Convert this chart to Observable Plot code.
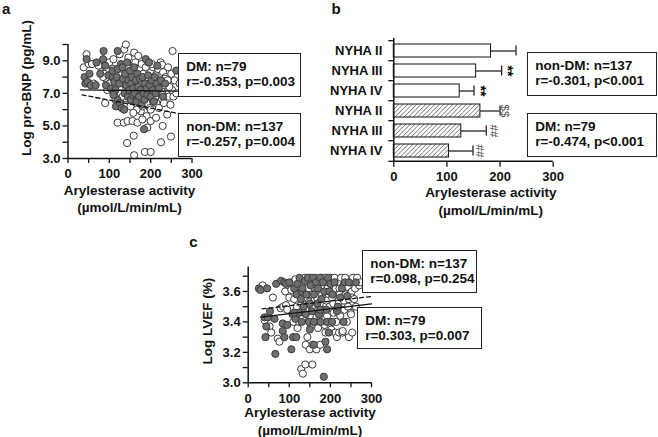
<!DOCTYPE html>
<html><head><meta charset="utf-8">
<script src="https://cdn.jsdelivr.net/npm/d3@7"></script>
<script src="https://cdn.jsdelivr.net/npm/@observablehq/plot@0.6"></script>
<style>
body{margin:0;background:#fff;}
#fig{position:relative;width:658px;height:437px;overflow:hidden;font-family:"Liberation Sans",Arial,sans-serif;font-weight:bold;color:#111;background:#fff;}
#fig svg{position:absolute;left:0;top:0;}
.t{position:absolute;white-space:nowrap;line-height:1;}
.box{position:absolute;box-sizing:border-box;border:1.5px solid #222;background:#fff;font-size:13.5px;line-height:15.5px;padding-left:7.5px;padding-top:4.6px;white-space:nowrap;}
</style></head><body><div id="fig"></div><script>
// ---------- DATA ----------
// Panel a: arylesterase activity vs log pro-BNP
const aDM = [[40,8.0],[42,7.6],[45,9.1],[47,7.7],[52,8.2],[55,7.5],[67,7.5],[69,8.9],[78,8.2],[85,9.1],[86,9.6],[90,8.7],[92,7.5],[98,8.1],[104,7.3],
[108,8.0],[108,8.4],[112,7.7],[115,7.2],[116,6.2],[118,8.0],[120,6.6],[120,8.5],[120,9.6],[124,7.6],[126,6.4],[128,8.8],[130,6.1],[132,8.6],[133,7.9],[136,6.0],[137,7.0],[138,8.2],[141,7.5],[143,8.9],[145,6.8],[146,7.8],[148,7.2],[150,8.4],[152,6.6],[153,7.6],[155,8.0],[157,6.9],[158,7.3],[160,8.6],[162,7.0],
[164,7.8],[166,6.5],[168,8.2],[170,7.4],[172,6.8],[174,7.9],[176,7.2],[178,6.3],[180,8.0],[184,4.8],[183,7.0],[185,6.6],[186,7.6],[188,9.1],[190,7.3],[192,6.9],[194,8.1],[196,8.9],[198,7.5],[200,6.8],[203,7.8],[205,7.2],[208,6.5],[210,8.0],[212,7.0],[215,7.6],[216,8.7],[220,7.3],[225,7.8],[230,6.8],[235,7.6],[262,8.4],[110,6.9]];
const aNonDM = [[38,8.6],[45,9.4],[50,8.8],[58,8.8],[62,7.6],[74,8.7],[80,8.3],[88,8.2],[92,7.9],[90,6.4],[100,8.9],[105,8.0],[110,9.1],[112,7.5],[115,6.6],[118,8.3],[122,7.9],[125,9.4],[128,7.0],[130,8.7],[132,6.8],[136,8.1],[136,9.7],[140,10.0],[140,7.4],[142,6.5],[144,8.6],[147,7.7],[148,6.9],[150,9.0],[150,8.0],[152,7.1],[154,6.4],[156,9.1],[156,8.4],[158,7.6],[160,9.5],[162,6.8],[163,8.9],[165,7.3],[167,8.1],[168,6.2],[170,7.8],[170,9.3],[172,6.6],[174,8.5],[175,7.0],[176,5.9],[178,8.8],[179,7.5],[180,6.2],[182,8.2],[184,6.8],[186,7.8],[188,8.6],[190,6.4],[190,5.6],[192,7.2],[194,8.9],[196,7.6],[198,6.1],[200,8.3],[200,6.0],[202,7.0],[204,7.9],[205,6.6],[206,8.6],[210,7.4],[212,8.1],[214,6.4],[215,6.9],[216,7.8],[218,8.5],[220,6.1],[222,7.2],[224,8.9],[226,6.7],[228,8.75],[230,8.3],[232,6.4],[234,7.5],[236,8.0],[240,7.0],[242,8.6],[244,6.8],[246,7.6],[248,6.3],[250,8.2],[252,7.2],[253,9.6],[255,6.8],[258,7.8],[262,7.0],[270,7.6],[276,7.95],
[120,5.2],[135,5.2],[144,5.3],[156,5.3],[168,5.2],[180,5.4],[192,4.9],[200,5.3],[213,5.5],[229,5.0],[143,3.95],[159,4.4],[160,3.2],[186,3.4],[200,3.4],[225,4.0],[249,4.35],[240,5.7],
[100,7.6],[108,8.5],[126,7.8],[134,6.1],[146,9.2],[154,7.9],[166,6.0],[173,7.6],[187,7.1],[193,8.0],[203,8.8],[211,6.8],[217,7.5],[227,7.1],[235,7.9],[245,7.4],[138,6.3],[158,5.8],[176,8.0],[207,7.3],[229,6.9],[241,7.8],[128,8.1],[151,6.2],[95,7.2],[85,8.0]];
const aFitSolid = [[30,7.21],[300,7.12]];
const aFitDashed = [[34,6.91],[300,5.6]];
const aXTicks = [0,50,100,150,200,250,300];
const aYTicks = [3,4,5,6,7,8,9,10];

// Panel b: arylesterase activity by NYHA class
const bCategories = ["NYHA II","NYHA III","NYHA IV","NYHA II","NYHA III","NYHA IV"];
const bGroups = ["non-DM","non-DM","non-DM","DM","DM","DM"];
const bMean = [183,155,124,163,127,104];
const bSD = [47,48,27,37,47,45];
const bMarks = ["","**","**","$$","##","##"];
const bXTicks = [0,100,200,300];

// Panel c: arylesterase activity vs log LVEF
const cDM = [[26,3.62],[30,3.61],[40,3.43],[42,3.30],[44,3.37],[46,3.62],[48,3.43],[53,3.47],[64,3.42],[66,3.19],[68,3.65],[80,3.67],[84,3.39],[84,3.34],[88,3.66],[88,3.30],[92,3.65],[95,3.38],[100,3.66],[105,3.22],[108,3.45],[109,3.30],[112,3.62],[115,3.42],[117,3.30],[118,3.58],[120,3.65],[122,3.46],[125,3.69],[128,3.55],[130,3.40],[130,3.60],[132,3.62],[135,3.50],[138,3.67],[140,3.45],[142,3.58],[145,3.69],[148,3.40],[150,3.52],[150,3.35],[152,3.64],[155,3.47],[158,3.69],[160,3.58],[160,3.40],[160,3.25],[165,3.66],[168,3.52],[170,3.62],[172,3.45],[175,3.69],[176,3.40],[178,3.55],[182,3.66],[184,3.04],[185,3.60],[188,3.27],[190,3.48],[192,3.40],[192,3.22],[194,3.69],[196,3.33],[198,3.60],[200,3.65],[204,3.40],[205,3.58],[210,3.66],[216,3.47],[218,3.50],[224,3.56],[228,3.62],[232,3.40],[235,3.66],[241,3.57],[245,3.66],[262,3.66],[175,3.48],[112,3.46]];
const cNonDM = [[35,3.64],[40,3.41],[52,3.37],[56,3.33],[60,3.56],[72,3.29],[76,3.27],[79,3.49],[85,3.50],[90,3.60],[92,3.51],[95,3.48],[98,3.64],[100,3.56],[105,3.61],[108,3.66],[110,3.40],[112,3.55],[115,3.68],[116,3.47],[118,3.50],[118,3.62],[120,3.36],[122,3.62],[124,3.40],[125,3.45],[126,3.58],[128,3.67],[129,3.09],[130,3.52],[132,3.42],[133,3.06],[133,3.66],[134,3.63],[136,3.55],[138,3.69],[139,3.12],[140,3.25],[140,3.48],[142,3.60],[143,3.52],[144,3.30],[146,3.66],[147,3.62],[148,3.53],[150,3.22],[150,3.44],[152,3.69],[153,3.38],[154,3.58],[156,3.12],[156,3.50],[157,3.25],[158,3.64],[160,3.40],[162,3.55],[163,3.62],[164,3.69],[166,3.22],[166,3.47],[167,3.56],[168,3.61],[170,3.36],[172,3.66],[173,3.46],[174,3.52],[175,3.25],[176,3.43],[178,3.69],[180,3.58],[182,3.48],[183,3.55],[184,3.63],[186,3.38],[187,3.42],[188,3.69],[188,3.33],[190,3.54],[192,3.44],[193,3.62],[194,3.66],[196,3.60],[198,3.50],[200,3.69],[202,3.35],[203,3.47],[204,3.56],[206,3.64],[207,3.52],[208,3.46],[210,3.69],[212,3.33],[212,3.58],[213,3.62],[214,3.40],[216,3.30],[218,3.66],[220,3.52],[221,3.33],[222,3.62],[223,3.58],[224,3.44],[226,3.69],[227,3.48],[228,3.56],[229,3.33],[230,3.34],[232,3.64],[233,3.54],[234,3.48],[236,3.69],[238,3.58],[240,3.40],[242,3.63],[243,3.50],[245,3.30],[245,3.55],[248,3.66],[249,3.46],[249,3.59],[250,3.45],[252,3.60],[253,3.33],[253,3.56],[255,3.69],[258,3.55],[260,3.62],[262,3.50],[265,3.69],[270,3.64],[273,3.66]];
const cFitSolid = [[30,3.431],[300,3.519]];
const cFitDashed = [[34,3.486],[300,3.567]];
const cXTicks = [0,50,100,150,200,250,300];
const cYTicks = [3.0,3.1,3.2,3.3,3.4,3.5,3.6,3.7];

// ---------- RENDER ----------
const W = 658, H = 437;
const FONT = '"Liberation Sans", Arial, sans-serif';
const fig = document.getElementById("fig");
const style = () => ({fontFamily: FONT, fontSize: "13px", fontWeight: "bold", color: "#111", background: "transparent", overflow: "visible"});
const openDot = {r: 3.6, fill: "#fff", stroke: "#3a3a3a", strokeWidth: 1};
const fillDot = {r: 3.6, fill: "#6f6f6f", stroke: "#3c3c3c", strokeWidth: 1};

// Panel a
const plotA = Plot.plot({
  width: W, height: H, marginLeft: 67.5, marginRight: W - 191.5, marginTop: 44, marginBottom: H - 158,
  x: {domain: [0, 300]}, y: {domain: [3, 10]},
  style: style(),
  marks: [
    Plot.dot(aNonDM, openDot),
    Plot.dot(aDM, fillDot),
    Plot.line(aFitSolid, {stroke: "#111", strokeWidth: 1.3}),
    Plot.line(aFitDashed, {stroke: "#111", strokeWidth: 1.3, strokeDasharray: "4,3"}),
    Plot.axisX({ticks: aXTicks, tickFormat: d => d % 100 === 0 ? String(d) : "", tickSize: 5, tickPadding: 5, label: null, strokeWidth: 1.3}),
    Plot.axisY({ticks: aYTicks, tickFormat: d => (d % 2 === 1 && d < 10) ? d.toFixed(1) : "", tickSize: 5, tickPadding: 2.5, label: null, strokeWidth: 1.3}),
    Plot.ruleX([0], {strokeWidth: 1.5}),
    Plot.ruleY([3], {strokeWidth: 1.5})
  ]
});
fig.appendChild(plotA);

// Panel b
const bKeys = bCategories.map((c, i) => bGroups[i] + " " + c);
const bLabel = Object.fromEntries(bKeys.map((k, i) => [k, bCategories[i]]));
const bData = bKeys.map((k, i) => ({key: k, group: bGroups[i], mean: bMean[i], err: bMean[i] + bSD[i], mark: bMarks[i]}));
const bTop = 38, bBottom = 161.7, bStep = (bBottom - bTop) / bKeys.length;
const plotB = Plot.plot({
  width: W, height: H, marginLeft: 393.3, marginRight: W - 552.7, marginTop: bTop, marginBottom: H - bBottom,
  x: {domain: [0, 300]},
  y: {type: "band", domain: bKeys, paddingInner: 0.37, paddingOuter: 0.185},
  style: style(),
  marks: [
    Plot.ruleY(bData, {y: "key", x1: "mean", x2: "err", stroke: "#111", strokeWidth: 1.2}),
    Plot.tickX(bData, {y: "key", x: "err", insetTop: 1.5, insetBottom: 1.5, stroke: "#111", strokeWidth: 1.2}),
    Plot.barX(bData.filter(d => d.group === "non-DM"), {y: "key", x: "mean", fill: "#fff", stroke: "#111", strokeWidth: 1}),
    Plot.barX(bData.filter(d => d.group === "DM"), {y: "key", x: "mean", fill: "url(#hatchB)", stroke: "#111", strokeWidth: 1}),
    Plot.text(bData.filter(d => d.mark === "**"), {y: "key", x: "err", text: "mark", dx: 6, rotate: 90, fontSize: 14, fontWeight: "bold", fill: "#000"}),
    Plot.text(bData.filter(d => d.mark === "$$"), {y: "key", x: "err", text: "mark", dx: 5, rotate: 90, fontSize: 11.5, fontWeight: "normal", fill: "#444"}),
    Plot.text(bData.filter(d => d.mark === "##"), {y: "key", x: "err", text: "mark", dx: 7, rotate: 90, fontSize: 11.5, fontWeight: "normal", fill: "#444"}),
    Plot.axisX({ticks: bXTicks, tickSize: 5, tickPadding: 5, label: null, strokeWidth: 1.3}),
    Plot.axisY({tickSize: 0, tickPadding: 11.5, tickFormat: k => bLabel[k], label: null}),
    Plot.ruleY(bKeys, {x1: 0, x2: 0, insetLeft: -5, dy: -bStep / 2, strokeWidth: 1.3}),
    Plot.ruleY(bKeys.slice(-1), {dy: bStep / 2, strokeWidth: 1.5}),
    Plot.ruleY(bKeys.slice(-1), {x1: 0, x2: 0, insetLeft: -5, dy: bStep / 2, strokeWidth: 1.3}),
    Plot.ruleX([0], {strokeWidth: 1.5})
  ]
});
plotB.insertAdjacentHTML("afterbegin", '<defs><pattern id="hatchB" patternUnits="userSpaceOnUse" width="3.2" height="3.2" patternTransform="rotate(45)"><rect width="3.2" height="3.2" fill="#fff"/><line x1="0" y1="0" x2="0" y2="3.2" stroke="#444" stroke-width="1.1"/></pattern></defs>');
fig.appendChild(plotB);

// Panel c
const plotC = Plot.plot({
  width: W, height: H, marginLeft: 247.7, marginRight: W - 371, marginTop: 266.6, marginBottom: H - 382.3,
  x: {domain: [0, 300]}, y: {domain: [3.0, 3.76]},
  style: style(),
  marks: [
    Plot.dot(cNonDM, openDot),
    Plot.dot(cDM, fillDot),
    Plot.line(cFitSolid, {stroke: "#111", strokeWidth: 1.3}),
    Plot.line(cFitDashed, {stroke: "#111", strokeWidth: 1.3, strokeDasharray: "4,3"}),
    Plot.axisX({ticks: cXTicks, tickFormat: d => d % 100 === 0 ? String(d) : "", tickSize: 5, tickPadding: 6, label: null, strokeWidth: 1.3}),
    Plot.axisY({ticks: cYTicks, tickFormat: d => Math.round(d * 10) % 2 === 0 ? d.toFixed(1) : "", tickSize: 5, tickPadding: 2.5, label: null, strokeWidth: 1.3}),
    Plot.ruleX([0], {strokeWidth: 1.5}),
    Plot.ruleY([3.0], {strokeWidth: 1.5})
  ]
});
fig.appendChild(plotC);

// ---------- TEXT & BOXES ----------
function addText(txt, cx, cy, size, rot) {
  const d = document.createElement("div");
  d.className = "t"; d.textContent = txt;
  d.style.fontSize = size + "px"; d.style.left = cx + "px"; d.style.top = cy + "px";
  d.style.transform = "translate(-50%,-50%)" + (rot ? ` rotate(${rot}deg)` : "");
  fig.appendChild(d);
}
function addLetter(txt, left, baseline, size) {
  const d = document.createElement("div");
  d.className = "t"; d.textContent = txt;
  d.style.fontSize = size + "px"; d.style.left = left + "px"; d.style.top = (baseline - 0.85 * size) + "px";
  fig.appendChild(d);
}
function addBox(lines, left, top, w, h) {
  const d = document.createElement("div");
  d.className = "box";
  d.style.left = left + "px"; d.style.top = top + "px"; d.style.width = w + "px"; d.style.height = h + "px";
  lines.forEach(l => { const s = document.createElement("div"); s.textContent = l; d.appendChild(s); });
  fig.appendChild(d);
}
const xTitle1 = "Arylesterase activity", xTitle2 = "(\u00b5mol/L/min/mL)";
addLetter("a", 2, 14, 15);
addLetter("b", 331.5, 14, 15);
addLetter("c", 189.3, 246.5, 15);
addText("Log pro-BNP (pg/mL)", 26.7, 88.3, 13.5, -90);
addText("Log LVEF (%)", 208.3, 320.8, 13.5, -90);
addText(xTitle1, 129.5, 191, 13.5); addText(xTitle2, 129.5, 208, 13.5);
addText(xTitle1, 490.8, 193.3, 13.5); addText(xTitle2, 490.8, 210.5, 13.5);
addText(xTitle1, 310, 413.3, 13.5); addText(xTitle2, 310, 431, 13.5);

addBox(["DM: n=79", "r=-0.353, p=0.003"], 177.7, 53, 123.3, 44);
addBox(["non-DM: n=137", "r=-0.257, p=0.004"], 177.7, 113, 123.3, 44);
addBox(["non-DM: n=137", "r=-0.301, p<0.001"], 526.7, 52.3, 130, 43.7);
addBox(["DM: n=79", "r=-0.474, p<0.001"], 526.7, 113.3, 130, 43.7);
addBox(["non-DM: n=137", "r=0.098, p=0.254"], 361.7, 250, 115, 43.3);
addBox(["DM: n=79", "r=0.303, p=0.007"], 356.7, 307.3, 125, 42);
</script></body></html>
